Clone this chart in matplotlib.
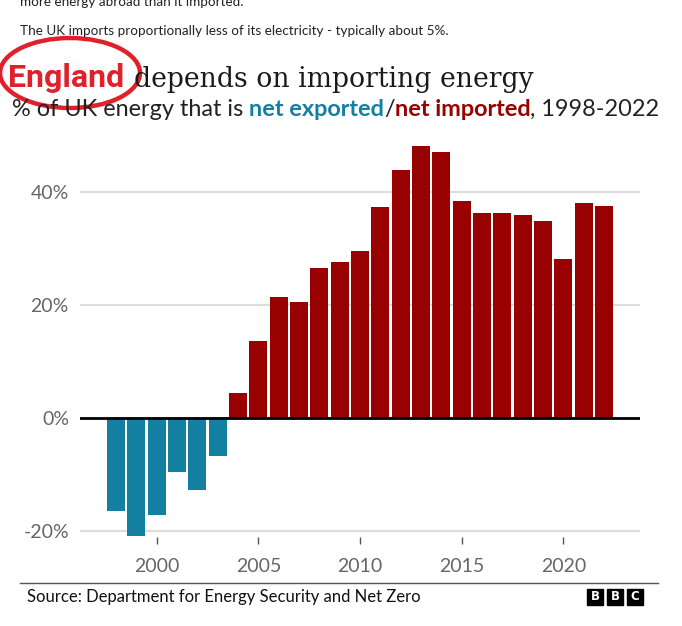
import numpy as np
import matplotlib
matplotlib.use("Agg")
import matplotlib.pyplot as plt
from matplotlib.patches import Ellipse, Rectangle

# data (% of UK energy net imported, negative = net exported)
years = list(range(1998, 2023))
net_import = [-16.4, -20.9, -17.2, -9.6, -12.8, -6.8,
              4.5, 13.6, 21.4, 20.6, 26.5, 27.6, 29.6, 37.3, 43.9,
              48.1, 47.1, 38.4, 36.2, 36.2, 36.0, 34.9, 28.1, 38.0, 37.5]
ytick_vals = [-20, 0, 20, 40]
xtick_vals = [2000, 2005, 2010, 2015, 2020]

BLUE = "#1380a1"
RED = "#990000"
W, H = 682, 626

fig = plt.figure(figsize=(W / 100, H / 100), dpi=100)
sans = ["Lato", "DejaVu Sans"]


def px(x, y):
    # pixel coords (from top-left) -> figure fraction
    return x / W, 1 - y / H


# axes box: x 80..640 px, y 135..537 px
ax = fig.add_axes([80 / W, (H - 537) / H, 560 / W, (537 - 135.5) / H])
cols = [BLUE if v < 0 else RED for v in net_import]
ax.bar(years, net_import, width=0.9, color=cols, zorder=3)
ax.set_xlim(1996.23, 2023.77)
ax.set_ylim(-21.06, 50)
ax.set_yticks(ytick_vals)
ax.set_yticklabels([f"{v}%" for v in ytick_vals])
ax.set_xticks(xtick_vals)
ax.set_xticklabels([str(v) for v in xtick_vals])
ax.grid(axis="y", color="#dddddd", linewidth=1.5, zorder=0)
ax.axhline(0, color="black", linewidth=2, zorder=4)
for s in ax.spines.values():
    s.set_visible(False)
ax.tick_params(axis="y", length=0, pad=8, labelsize=14, labelcolor="#666666")
ax.tick_params(axis="x", length=5, width=1, color="#555555", direction="out",
               pad=10, labelsize=14, labelcolor="#666666")
for lab in ax.get_xticklabels() + ax.get_yticklabels():
    lab.set_family(sans)

# text above the chart
fig.text(*px(20, 6), "more energy abroad than it imported.", fontsize=9.7,
         family=sans, color="#222222", va="baseline")
fig.text(*px(20, 35), "The UK imports proportionally less of its electricity - typically about 5%.",
         fontsize=9.7, family=sans, color="#222222", va="baseline")

fig.text(*px(134, 87), "depends on importing energy", fontsize=19.2,
         family=["DejaVu Serif"], color="#1a1a1a", va="baseline")

# subtitle in pieces
renderer = fig.canvas.get_renderer()
pieces = [("% of UK energy that is ", "#222222", "normal"),
          ("net exported", BLUE, "bold"),
          ("/", "#222222", "normal"),
          ("net imported", RED, "bold"),
          (", 1998-2022", "#222222", "normal")]
xpos = 12
for txt, c, w in pieces:
    t = fig.text(*px(xpos, 116), txt, fontsize=16.9, family=sans, color=c,
                 weight=w, va="baseline")
    xpos += t.get_window_extent(renderer).width

# red England overlay
fig.patches.append(Ellipse(px(70, 73), 140 / W, 70 / H, transform=fig.transFigure,
                           fill=False, edgecolor="#e0202a", linewidth=3.2))
fig.text(*px(8, 87), "England", fontsize=23, weight="bold",
         family=["Roboto", "DejaVu Sans"], color="#e0202a",
         va="baseline")

# footer
fig.add_artist(plt.Line2D([20 / W, 658 / W], [1 - 583 / H, 1 - 583 / H],
                          transform=fig.transFigure, color="#555555", linewidth=1))
fig.text(*px(27, 602), "Source: Department for Energy Security and Net Zero",
         fontsize=12, family=sans, color="#111111", va="baseline")
for i, letter in enumerate("BBC"):
    x0 = 587 + i * 20
    fig.patches.append(Rectangle(((x0) / W, 1 - 605 / H), 16 / W, 16 / H,
                                 transform=fig.transFigure, color="black"))
    fig.text(*px(x0 + 8, 597), letter, fontsize=8.5, weight="bold",
             family=["DejaVu Sans"], color="white", ha="center", va="center")

fig.savefig("out.png", dpi=100)
